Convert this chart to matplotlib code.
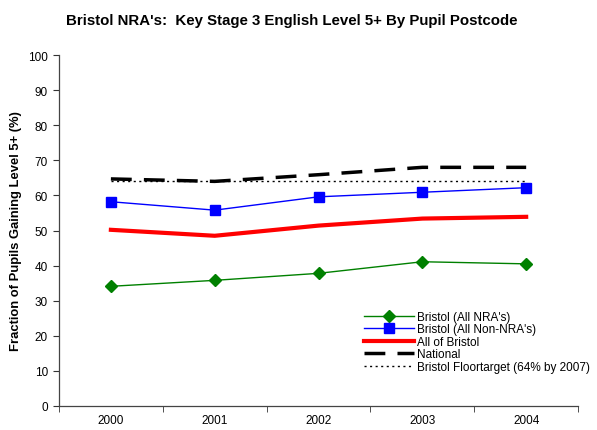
import matplotlib
matplotlib.use("Agg")
import matplotlib.pyplot as plt

plt.rcParams["font.family"] = ["Liberation Sans", "DejaVu Sans"]

years = ["2000", "2001", "2002", "2003", "2004"]
nra = [34.1, 35.8, 37.8, 41.1, 40.5]
non_nra = [58.2, 55.8, 59.6, 60.9, 62.2]
all_bristol = [50.2, 48.5, 51.4, 53.4, 53.9]
national = [64.7, 64.0, 65.9, 68.0, 68.0]
floortarget = [64, 64, 64, 64, 64]

fig = plt.figure(figsize=(5.97, 4.31), dpi=100)
ax = fig.add_axes([0.0988, 0.0557, 0.8695, 0.8143])

x = list(range(len(years)))
ax.plot(x, nra, color="#008000", lw=1, marker="D", ms=6, label="Bristol (All NRA's)")
ax.plot(x, non_nra, color="#0000ff", lw=1, marker="s", ms=7.5, label="Bristol (All Non-NRA's)")
ax.plot(x, all_bristol, color="#ff0000", lw=3, label="All of Bristol")
ax.plot(x, national, color="black", lw=2.5, dashes=(6, 3.5), label="National")
ax.plot(x, floortarget, color="black", lw=1, dashes=(1.5, 2.5), label="Bristol Floortarget (64% by 2007)")

ax.set_xlim(-0.5, len(years) - 0.5)
ax.set_ylim(0, 100)
ax.set_yticks(range(0, 101, 10))
ax.set_xticks(x)
ax.set_xticklabels(years)
ax.set_xticks([i - 0.5 for i in range(len(years) + 1)], minor=True)
ax.tick_params(axis="x", which="major", length=0, pad=6, labelsize=8.5)
ax.tick_params(axis="x", which="minor", length=4, direction="out", color="#333333")
ax.tick_params(axis="y", length=4, direction="out", labelsize=8.5, color="#333333", pad=4)
for s in ["top", "right"]:
    ax.spines[s].set_visible(False)
for s in ["left", "bottom"]:
    ax.spines[s].set_color("#444444")
    ax.spines[s].set_linewidth(0.9)

ax.set_ylabel("Fraction of Pupils Gaining Level 5+ (%)", fontsize=9.4, fontweight="bold", labelpad=4)
fig.text(0.488, 0.952, "Bristol NRA's:  Key Stage 3 English Level 5+ By Pupil Postcode",
         ha="center", va="center", fontsize=10.8, fontweight="bold")

ax.legend(loc="lower right", bbox_to_anchor=(1.035, 0.077), frameon=False, fontsize=8.5,
          handlelength=4.2, handletextpad=0.3, labelspacing=0.05, borderpad=0)

fig.savefig("out.png", dpi=100)
